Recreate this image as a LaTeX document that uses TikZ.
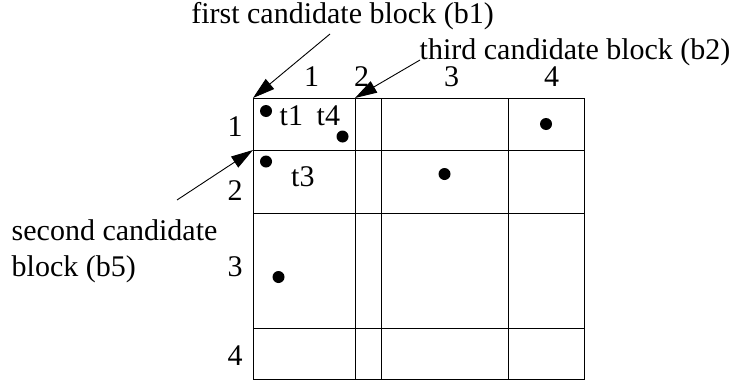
\documentclass[tikz,border=0pt]{standalone}
\usepackage{fontspec}
\setmainfont{Liberation Serif}
\usetikzlibrary{arrows.meta}
\begin{document}
\begin{tikzpicture}[x=1pt,y=-1pt,
  lbl/.style={inner sep=0pt,font=\fontsize{30}{37}\selectfont},
  gridline/.style={line width=1pt},
  dot/.style={circle,fill=black,inner sep=0pt,minimum size=12pt},
  pointer/.style={line width=0.9pt,-{Triangle[length=22pt,width=13pt]}}]
\useasboundingbox (0,0) rectangle (735,383);
% grid corners
\coordinate (g00) at (253,98);
\coordinate (g11) at (584,379);
\draw[gridline] (g00) rectangle (g11);
\foreach \xx/\nm in {355/c1,381/c2,508/c3} {
  \coordinate (\nm) at (\xx,98);
  \draw[gridline] (\xx,98) -- (\xx,379);
}
\foreach \yy/\nm in {150/r1,213/r2,328/r3} {
  \coordinate (\nm) at (253,\yy);
  \draw[gridline] (253,\yy) -- (584,\yy);
}
% column labels
\node[lbl,anchor=base] (col1) at (311.5,86) {1};
\node[lbl,anchor=base] (col2) at (361.5,86) {2};
\node[lbl,anchor=base] (col3) at (451.5,86) {3};
\node[lbl,anchor=base] (col4) at (551.5,86) {4};
% row labels
\node[lbl,anchor=base] (row1) at (235,136.5) {1};
\node[lbl,anchor=base] (row2) at (235,200) {2};
\node[lbl,anchor=base] (row3) at (235,276) {3};
\node[lbl,anchor=base] (row4) at (235,365) {4};
% dots
\node[dot] (d1) at (266,111) {};
\node[dot] (d4) at (342.5,136.5) {};
\node[dot] (d3) at (266,161.5) {};
\node[dot] (d5) at (444.5,174) {};
\node[dot] (d6) at (546,124) {};
\node[dot] (d7) at (278.5,277) {};
% t labels
\node[lbl,anchor=base west] (t1) at (279.5,125) {t1};
\node[lbl,anchor=base west] (t4) at (316.5,125) {t4};
\node[lbl,anchor=base west] (t3) at (291,186.5) {t3};
% captions
\node[lbl,anchor=base] (cap1) at (342.5,23) {first candidate block (b1)};
\node[lbl,anchor=base west] (cap2) at (419.5,59) {third candidate block (b2)};
\node[lbl,anchor=base west] (cap5a) at (11.5,240) {second candidate};
\node[lbl,anchor=base west] (cap5b) at (11.5,276.5) {block (b5)};
% arrows
\coordinate (a1) at (330,34);
\coordinate (a2) at (420,60);
\coordinate (a5) at (177,200);
\draw[pointer] (a1) -- (g00);
\draw[pointer] (a2) -- (c1);
\draw[pointer] (a5) -- (r1);
\end{tikzpicture}
\end{document}
